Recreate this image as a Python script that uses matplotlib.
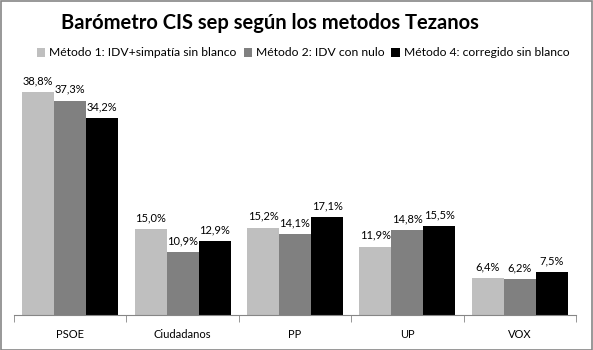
import matplotlib
matplotlib.use('Agg')
import matplotlib.pyplot as plt
import numpy as np

plt.rcParams['font.family'] = ['Lato', 'DejaVu Sans']

partidos = ['PSOE', 'Ciudadanos', 'PP', 'UP', 'VOX']
series = ['Método 1: IDV+simpatía sin blanco', 'Método 2: IDV con nulo',
          'Método 4: corregido sin blanco']
metodo1 = [38.8, 15.0, 15.2, 11.9, 6.4]
metodo2 = [37.3, 10.9, 14.1, 14.8, 6.2]
metodo4 = [34.2, 12.9, 17.1, 15.5, 7.5]
colores = ['#BFBFBF', '#808080', '#000000']

W, H = 593, 350
fig = plt.figure(figsize=(W / 100, H / 100), dpi=100)

# plot area in pixels: x 14..576, baseline y 315, top y 80
ax = fig.add_axes([14 / W, (H - 315) / H, 562 / W, 235 / H])

x = np.arange(len(partidos))
ancho = 0.285
for i, (vals, col, nombre) in enumerate(zip([metodo1, metodo2, metodo4], colores, series)):
    pos = x + (i - 1) * ancho
    bars = ax.bar(pos, vals, ancho, color=col, label=nombre)
    for b, v in zip(bars, vals):
        ax.text(b.get_x() + b.get_width() / 2, v + 1.0, f'{v:.1f}%'.replace('.', ','),
                ha='center', va='bottom', fontsize=8)

ax.set_xlim(-0.5, len(partidos) - 0.5)
ax.set_ylim(0, 235 / 5.75)
ax.set_xticks(x)
ax.set_xticklabels(partidos, fontsize=8)
ax.set_xticks(np.arange(len(partidos) + 1) - 0.5, minor=True)
ax.tick_params(axis='x', which='major', length=0, pad=10)
ax.tick_params(axis='x', which='minor', length=5, color='#868686', direction='out')
ax.set_yticks([])
for s in ['top', 'right', 'left']:
    ax.spines[s].set_visible(False)
ax.spines['bottom'].set_color('#868686')

fig.text(270 / W, 1 - 23 / H, 'Barómetro CIS sep según los metodos Tezanos',
         ha='center', va='center', fontsize=14.5, fontweight='bold')
fig.legend(loc='center', bbox_to_anchor=(303 / W, 1 - 53 / H), ncol=3,
           frameon=False, fontsize=8.7, handlelength=0.7, handleheight=0.7,
           handletextpad=0.3, columnspacing=0.6)

fig.patches.append(plt.Rectangle((0.001, 0.001), 0.997, 0.997, transform=fig.transFigure,
                                 fill=False, edgecolor='#868686', linewidth=1.2))

fig.savefig('out.png', dpi=100)
